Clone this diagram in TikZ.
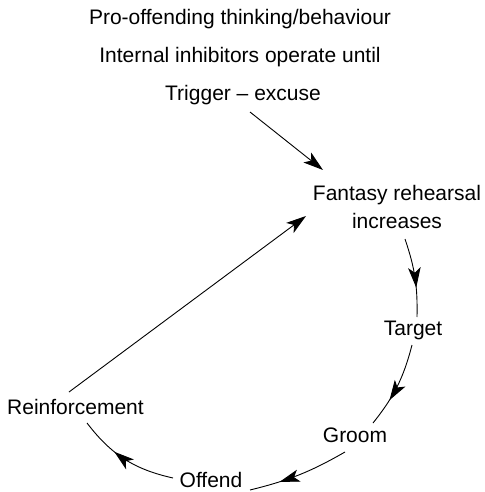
\documentclass[tikz,border=0pt]{standalone}
\usepackage{fontspec}
\setmainfont{Liberation Sans}
\usetikzlibrary{arrows.meta,decorations.markings,calc}
\begin{document}
\begin{tikzpicture}[x=1pt,y=-1pt,
  lbl/.style={inner sep=0pt,font=\fontsize{21}{28}\selectfont},
  conn/.style={line width=0.9pt},
  endtip/.style={-{Stealth[length=20pt,width=12.5pt,inset=5pt]}},
  midarrow/.style={postaction={decorate},decoration={markings,mark=at position #1 with {\arrow{Stealth[length=20pt,width=12.5pt,inset=5pt]}}}}]
\useasboundingbox (0,0) rectangle (484,492);
\node[lbl,anchor=base] (l1) at (240,25) {Pro-offending thinking/behaviour};
\node[lbl,anchor=base] (l2) at (240,63) {Internal inhibitors operate until};
\node[lbl,anchor=base] (trig) at (243,101) {Trigger – excuse};
\node[lbl,anchor=north,align=center] (fant) at (397,185) {Fantasy rehearsal\\increases};
\node[lbl,anchor=base] (targ) at (413,335) {Target};
\node[lbl,anchor=base] (groom) at (355,442) {Groom};
\node[lbl,anchor=base] (offend) at (211,487) {Offend};
\node[lbl,anchor=base] (reinf) at (75.5,414) {Reinforcement};
\draw[conn,endtip] ($(trig.base)+(7,11)$) -- ($(fant.north)+(-74,-15)$);
\draw[conn,endtip] ($(reinf.base)+(-6.5,-22)$) -- ($(fant.north)+(-91,31)$);
\draw[conn,midarrow=0.63] ($(fant.north)+(8,54)$) to[bend left=10] ($(targ.base)+(4,-18)$);
\draw[conn,midarrow=0.68] ($(targ.base)+(-1,10)$) to[bend left=12] ($(groom.base)+(18,-19)$);
\draw[conn,midarrow=0.7] ($(groom.base)+(-10,10)$) to[bend left=8] ($(offend.base)+(39,3)$);
\draw[conn,midarrow=0.62] ($(offend.base)+(-38,-9)$) to[bend left=20] ($(reinf.base)+(11.5,9)$);
\end{tikzpicture}
\end{document}
